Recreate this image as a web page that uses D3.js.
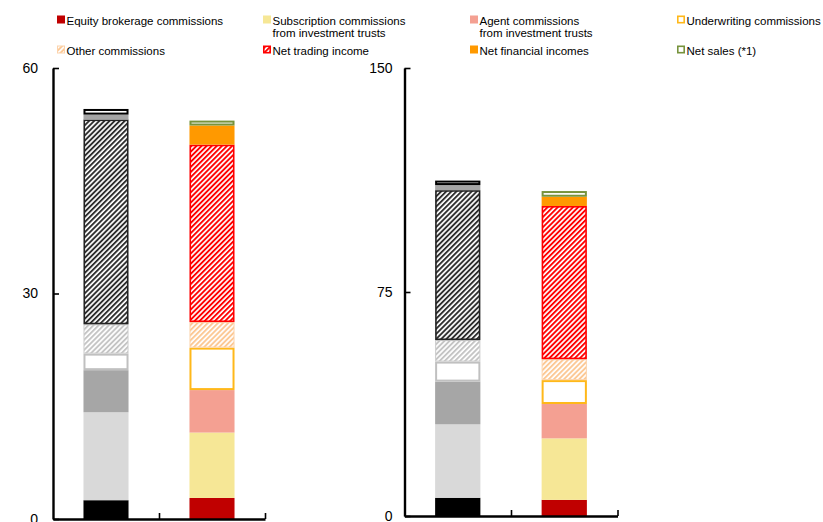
<!DOCTYPE html>
<html>
<head>
<meta charset="utf-8">
<script src="https://cdn.jsdelivr.net/npm/d3@7"></script>
<style>
  body { margin: 0; background: #fff; }
  text { font-family: "Liberation Sans", Arial, sans-serif; fill: #000; }
</style>
</head>
<body>
<svg id="chart" width="823" height="522"></svg>
<script>
// Revenue components, stacked bottom to top
const seriesNames = [
  ["Equity brokerage commissions"],
  ["Subscription commissions", "from investment trusts"],
  ["Agent commissions", "from investment trusts"],
  ["Underwriting commissions"],
  ["Other commissions"],
  ["Net trading income"],
  ["Net financial incomes"],
  ["Net sales (*1)"]
];
const periods = ["prev", "curr"];

// Left panel (scale 0-60)
const leftPrev = [2.5, 11.7, 5.6, 2.2, 3.9, 27.25, 0.65, 0.75];
const leftCurr = [2.8, 8.7, 5.65, 5.65, 3.4, 23.6, 2.55, 0.65];
const leftTicks = [0, 30, 60];

// Right panel (scale 0-150)
const rightPrev = [6.1, 24.6, 14.3, 6.7, 7.2, 50.2, 1.7, 1.5];
const rightCurr = [5.4, 20.6, 11.5, 8.0, 7.0, 51.3, 3.1, 1.9];
const rightTicks = [0, 75, 150];

const svg = d3.select("#chart");
const defs = svg.append("defs");

function hatch(id, color) {
  const p = defs.append("pattern")
    .attr("id", id)
    .attr("patternUnits", "userSpaceOnUse")
    .attr("width", 3.6).attr("height", 3.6)
    .attr("patternTransform", "rotate(45)");
  p.append("rect").attr("width", 3.6).attr("height", 3.6).attr("fill", "#fff");
  p.append("rect").attr("width", 1.9).attr("height", 3.6).attr("fill", color);
}
hatch("hDark", "#2e2e2e");
hatch("hLightGray", "#c4c4c4");
hatch("hRed", "#ff0000");
hatch("hOrange", "#fcc894");

// Styles for the previous-period (grey) and current-period (colour) bars
const prevStyle = [
  { fill: "#000000" },
  { fill: "#d9d9d9" },
  { fill: "#a6a6a6" },
  { fill: "#ffffff", stroke: "#c0c0c0", sw: 2 },
  { fill: "url(#hLightGray)", stroke: "#cccccc", sw: 1 },
  { fill: "url(#hDark)", stroke: "#222222", sw: 1.6 },
  { fill: "#a6a6a6" },
  { fill: "#ffffff", stroke: "#000000", sw: 2 }
];
const currStyle = [
  { fill: "#c00000" },
  { fill: "#f6e796" },
  { fill: "#f4a092" },
  { fill: "#ffffff", stroke: "#ffb81a", sw: 2 },
  { fill: "url(#hOrange)", stroke: "#fcd3ac", sw: 1 },
  { fill: "url(#hRed)", stroke: "#ff0000", sw: 1.6 },
  { fill: "#ff9900" },
  { fill: "#ffffff", stroke: "#77933c", sw: 2 }
];

function styledRect(g, x, y, w, h, st) {
  const sw = st.sw || 0;
  g.append("rect")
    .attr("x", x + sw / 2)
    .attr("y", y + sw / 2)
    .attr("width", Math.max(0, w - sw))
    .attr("height", Math.max(0, h - sw))
    .attr("fill", st.fill)
    .attr("stroke", st.stroke || "none")
    .attr("stroke-width", sw);
}

function panel(cfg) {
  const g = svg.append("g");
  const y = d3.scaleLinear().domain([cfg.ticks[0], cfg.ticks[cfg.ticks.length - 1]])
    .range([cfg.y0, cfg.yTop]);
  const x = d3.scaleBand().domain(periods).range([cfg.x0, cfg.x1]).padding(0);
  const bw = x.bandwidth() * 0.425;

  [cfg.prev, cfg.curr].forEach((vals, i) => {
    const styles = i === 0 ? prevStyle : currStyle;
    const tops = d3.cumsum(vals);
    const bx = x(periods[i]) + (x.bandwidth() - bw) / 2;
    vals.forEach((v, k) => {
      const yTop = y(tops[k]);
      const yBot = y(tops[k] - v);
      styledRect(g, bx, yTop, bw, yBot - yTop, styles[k]);
    });
  });

  // value axis
  const ya = g.append("g")
    .attr("transform", `translate(${cfg.x0},0)`)
    .call(d3.axisLeft(y).tickValues(cfg.ticks).tickSize(-6).tickPadding(cfg.pad).tickSizeOuter(0));
  ya.select(".domain").attr("stroke", "#000").attr("stroke-width", 2.4);
  ya.selectAll(".tick line").attr("stroke", "#000").attr("stroke-width", 1.6);
  ya.selectAll(".tick text").attr("font-size", 14).attr("font-family", "Liberation Sans, Arial, sans-serif");

  // category axis with boundary ticks
  const xb = d3.scaleLinear().domain([0, 2]).range([cfg.x0, cfg.x1]);
  const xa = g.append("g")
    .attr("transform", `translate(0,${y(0)})`)
    .call(d3.axisBottom(xb).tickValues([1, 2]).tickSize(-6).tickSizeOuter(0).tickFormat(""));
  xa.select(".domain").attr("stroke", "#000").attr("stroke-width", 2.4);
  xa.selectAll(".tick line").attr("stroke", "#000").attr("stroke-width", 1.6);
}

panel({ prev: leftPrev, curr: leftCurr, ticks: leftTicks, x0: 53, x1: 265, y0: 519, yTop: 68, pad: 15 });
panel({ prev: rightPrev, curr: rightCurr, ticks: rightTicks, x0: 404.5, x1: 617.5, y0: 516, yTop: 68, pad: 12 });

// legend
const legendPos = [
  [57, 0], [263, 0], [470, 0], [677, 0],
  [57, 1], [263, 1], [470, 1], [677, 1]
];
const lg = svg.append("g");
seriesNames.forEach((lines, k) => {
  const [lx, row] = legendPos[k];
  const top = row === 0 ? 15.5 : 45.5;
  const st = currStyle[k];
  const sw = st.sw ? Math.min(st.sw, 1.6) : 0;
  lg.append("rect")
    .attr("x", lx + sw / 2).attr("y", top + sw / 2)
    .attr("width", 8 - sw).attr("height", 8 - sw)
    .attr("fill", st.fill)
    .attr("stroke", st.stroke || "none")
    .attr("stroke-width", sw);
  const t = lg.append("text")
    .attr("x", lx + 9.5)
    .attr("y", top + 9)
    .attr("font-size", 11.5);
  lines.forEach((ln, j) => {
    t.append("tspan").attr("x", lx + 9.5).attr("dy", j === 0 ? 0 : 12).text(ln);
  });
});
</script>
</body>
</html>
